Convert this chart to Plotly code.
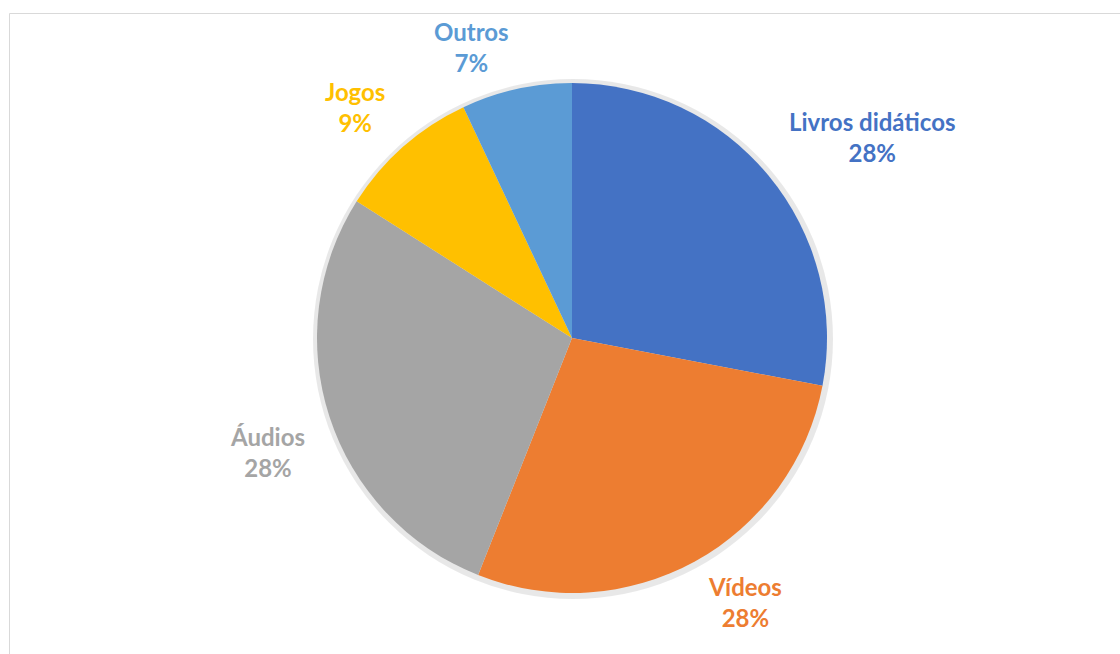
import math
import plotly.graph_objects as go

categories = ["Livros didáticos", "Vídeos", "Áudios", "Jogos", "Outros"]
values = [28, 28, 28, 9, 7]
colors = ["#4472C4", "#ED7D31", "#A5A5A5", "#FFC000", "#5B9BD5"]

W, H = 1120, 654
cx, cy, r = 572, 338, 255
sr = r + 5          # soft shadow halo
gap_x, gap_y = 24, 10  # label gap from pie edge

def dom(cxx, cyy, rr):
    return dict(x=[(cxx - rr) / W, (cxx + rr) / W], y=[1 - (cyy + rr) / H, 1 - (cyy - rr) / H])

fig = go.Figure()

fig.add_trace(go.Pie(
    labels=["shadow"], values=[sum(values)],
    marker=dict(colors=["rgba(0,0,0,0.09)"], line=dict(width=0)),
    textinfo="none", hoverinfo="skip", showlegend=False, sort=False,
    domain=dom(cx + 1, cy + 1, sr),
))

fig.add_trace(go.Pie(
    labels=categories,
    values=values,
    sort=False,
    direction="clockwise",
    rotation=0,
    marker=dict(colors=colors, line=dict(width=0)),
    textinfo="none",
    showlegend=False,
    hoverinfo="label+percent",
    domain=dom(cx, cy, r),
))

# data labels placed outside each slice (best-fit style), derived from the values
total = sum(values)
annotations = []
cum = 0
for lab, v, col in zip(categories, values, colors):
    mid = (cum + v / 2) / total * 2 * math.pi
    cum += v
    ux, uy = math.sin(mid), math.cos(mid)  # uy: upward positive
    px = cx + (r + gap_x) * ux
    py = cy - (r + gap_y) * uy
    xa = "left" if ux > 0.2 else ("right" if ux < -0.2 else "center")
    ya = "bottom" if uy > 0.3 else ("top" if uy < -0.3 else "middle")
    annotations.append(dict(
        x=px / W, y=1 - py / H, xref="paper", yref="paper",
        xanchor=xa, yanchor=ya, showarrow=False, align="center",
        text=f"<b>{lab}</b><br><b>{round(v / total * 100)}%</b>",
        font=dict(family="Lato", size=24, color=col),
    ))

fig.update_layout(
    width=W, height=H,
    margin=dict(l=0, r=0, t=0, b=0),
    paper_bgcolor="white",
    plot_bgcolor="white",
    annotations=annotations,
    shapes=[dict(type="rect", xref="paper", yref="paper",
                 x0=9.5 / W, x1=1.01, y0=-0.01, y1=1 - 13.5 / H,
                 line=dict(color="#D9D9D9", width=1), layer="below")],
)

fig.write_html("out.html")
